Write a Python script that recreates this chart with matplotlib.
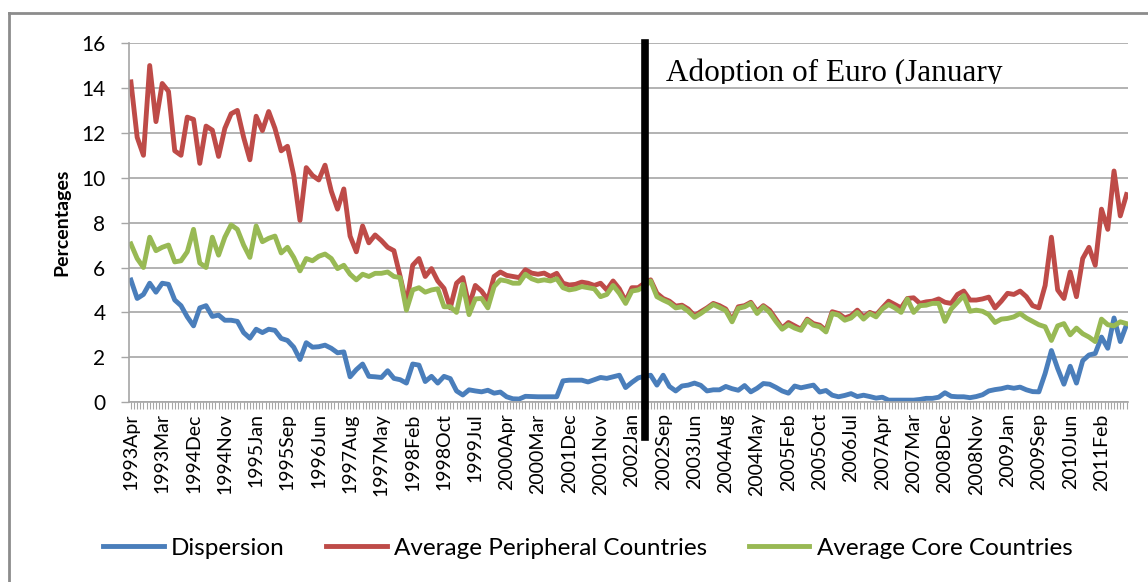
import numpy as np
import matplotlib.pyplot as plt
from matplotlib.ticker import MultipleLocator
from matplotlib.lines import Line2D
from matplotlib.transforms import Bbox, TransformedBbox

# --------------------------
# Data
# --------------------------

tick_labels = ["1993Apr", "1993Mar", "1994Dec", "1994Nov", "1995Jan", "1995Sep",
               "1996Jun", "1997Aug", "1997May", "1998Feb", "1998Oct", "1999Jul",
               "2000Apr", "2000Mar", "2001Dec", "2001Nov", "2002Jan", "2002Sep",
               "2003Jun", "2004Aug", "2004May", "2005Feb", "2005Oct", "2006Jul",
               "2007Apr", "2007Mar", "2008Dec", "2008Nov", "2009Jan", "2009Sep",
               "2010Jun", "2011Feb"]

dispersion = [5.44, 4.62, 4.8, 5.3, 4.9, 5.3, 5.25, 4.55, 4.3, 3.8,
              3.4, 4.2, 4.3, 3.82, 3.88, 3.65, 3.65, 3.6, 3.1, 2.85,
              3.25, 3.1, 3.25, 3.2, 2.84, 2.75, 2.45, 1.9, 2.65, 2.45,
              2.47, 2.54, 2.4, 2.2, 2.24, 1.13, 1.45, 1.7, 1.15, 1.13,
              1.1, 1.4, 1.06, 1.0, 0.85, 1.7, 1.65, 0.92, 1.15, 0.85,
              1.15, 1.05, 0.5, 0.32, 0.55, 0.5, 0.46, 0.53, 0.4, 0.45,
              0.24, 0.15, 0.14, 0.26, 0.25, 0.24, 0.24, 0.24, 0.24, 0.95,
              0.98, 0.98, 0.98, 0.9, 1.0, 1.1, 1.06, 1.13, 1.2, 0.65,
              0.88, 1.08, 1.15, 1.2, 0.76, 1.2, 0.7, 0.5, 0.72, 0.76,
              0.85, 0.75, 0.5, 0.55, 0.55, 0.7, 0.6, 0.53, 0.74, 0.46,
              0.62, 0.83, 0.8, 0.66, 0.5, 0.4, 0.72, 0.64, 0.7, 0.76,
              0.45, 0.52, 0.31, 0.24, 0.3, 0.38, 0.25, 0.31, 0.25, 0.18,
              0.22, 0.09, 0.09, 0.09, 0.09, 0.09, 0.12, 0.17, 0.17, 0.22,
              0.42, 0.26, 0.24, 0.24, 0.2, 0.25, 0.33, 0.5, 0.56, 0.6,
              0.67, 0.62, 0.67, 0.55, 0.47, 0.46, 1.28, 2.3, 1.5, 0.8,
              1.6, 0.85, 1.85, 2.1, 2.17, 2.9, 2.4, 3.75, 2.7, 3.45]

peripheral = [14.27, 11.8, 11.0, 15.0, 12.5, 14.2, 13.85, 11.2, 11.0, 12.7,
              12.6, 10.64, 12.3, 12.12, 10.95, 12.2, 12.85, 13.0, 11.8, 10.8,
              12.74, 12.1, 12.95, 12.2, 11.2, 11.4, 10.1, 8.1, 10.45, 10.1,
              9.9, 10.56, 9.4, 8.6, 9.5, 7.4, 6.7, 7.85, 7.1, 7.45,
              7.2, 6.9, 6.75, 5.6, 4.35, 6.1, 6.4, 5.6, 5.95, 5.4,
              5.07, 4.2, 5.3, 5.55, 4.3, 5.2, 4.95, 4.55, 5.6, 5.8,
              5.65, 5.6, 5.55, 5.9, 5.75, 5.7, 5.75, 5.6, 5.74, 5.3,
              5.22, 5.25, 5.35, 5.3, 5.2, 5.3, 5.0, 5.4, 5.05, 4.5,
              5.1, 5.1, 5.3, 5.45, 4.85, 4.62, 4.5, 4.28, 4.32, 4.15,
              3.85, 4.03, 4.2, 4.4, 4.3, 4.15, 3.65, 4.25, 4.3, 4.45,
              4.05, 4.3, 4.1, 3.7, 3.3, 3.55, 3.4, 3.25, 3.7, 3.5,
              3.43, 3.2, 4.03, 3.95, 3.75, 3.85, 4.1, 3.8, 4.0, 3.88,
              4.2, 4.5, 4.35, 4.2, 4.62, 4.65, 4.4, 4.47, 4.5, 4.6,
              4.45, 4.4, 4.8, 4.95, 4.55, 4.55, 4.6, 4.68, 4.2, 4.5,
              4.85, 4.8, 4.95, 4.7, 4.3, 4.2, 5.2, 7.35, 5.0, 4.62,
              5.8, 4.7, 6.4, 6.9, 6.1, 8.6, 7.7, 10.3, 8.3, 9.25]

core = [7.05, 6.4, 6.0, 7.35, 6.75, 6.9, 7.0, 6.25, 6.3, 6.7,
        7.7, 6.2, 6.0, 7.35, 6.55, 7.35, 7.9, 7.7, 7.0, 6.45,
        7.85, 7.15, 7.3, 7.4, 6.65, 6.9, 6.45, 5.85, 6.4, 6.3,
        6.5, 6.6, 6.4, 5.95, 6.1, 5.7, 5.45, 5.7, 5.6, 5.74,
        5.74, 5.8, 5.6, 5.55, 4.1, 5.0, 5.1, 4.9, 5.0, 5.05,
        4.25, 4.25, 4.0, 5.25, 3.9, 4.6, 4.62, 4.2, 5.15, 5.45,
        5.4, 5.3, 5.3, 5.7, 5.5, 5.4, 5.45, 5.4, 5.5, 5.1,
        5.0, 5.05, 5.15, 5.1, 5.05, 4.7, 4.8, 5.2, 4.85, 4.4,
        4.95, 5.0, 5.15, 5.4, 4.7, 4.55, 4.42, 4.2, 4.25, 4.05,
        3.78, 3.95, 4.15, 4.35, 4.22, 4.08, 3.58, 4.18, 4.25, 4.4,
        3.95, 4.25, 4.0, 3.6, 3.25, 3.45, 3.3, 3.2, 3.65, 3.43,
        3.36, 3.13, 3.95, 3.88, 3.65, 3.75, 4.0, 3.7, 3.95, 3.8,
        4.15, 4.35, 4.2, 4.0, 4.6, 4.0, 4.3, 4.32, 4.4, 4.4,
        3.6, 4.15, 4.45, 4.75, 4.05, 4.1, 4.05, 3.9, 3.55, 3.7,
        3.73, 3.8, 3.95, 3.75, 3.6, 3.45, 3.36, 2.75, 3.4, 3.5,
        3.0, 3.3, 3.05, 2.9, 2.7, 3.7, 3.45, 3.4, 3.58, 3.5]

euro_index = 82.1   # position of the euro adoption marker (category index)

# --------------------------
# Plot
# --------------------------

font = ["Lato", "DejaVu Sans"]
plt.rcParams["font.family"] = font

x = np.arange(len(dispersion))

fig = plt.figure(figsize=(11.48, 5.82), dpi=100)
ax = fig.add_axes([0.1124, 0.309, 0.870, 0.617])

ax.plot(x, dispersion, color="#4A7EBB", lw=3.5, label="Dispersion", solid_joinstyle="round")
ax.plot(x, peripheral, color="#BE4B48", lw=3.5, label="Average Peripheral Countries", solid_joinstyle="round")
ax.plot(x, core, color="#98B954", lw=3.5, label="Average Core Countries", solid_joinstyle="round")

ax.set_xlim(-0.3, len(x) - 0.8)
ax.set_ylim(0, 16)
ax.set_yticks(np.arange(0, 17, 2))
ax.yaxis.grid(True, color="#a6a6a6", lw=1.2)
ax.set_axisbelow(True)

ax.set_xticks(np.arange(0, len(x), 5))
ax.set_xticklabels(tick_labels, rotation=90, fontsize=14)
ax.xaxis.set_minor_locator(MultipleLocator(0.5))
ax.tick_params(axis="x", which="both", length=5, color="#a6a6a6", width=0.8, pad=3)
ax.tick_params(axis="y", length=6, color="#a6a6a6", width=1, pad=11, labelsize=15)

for side in ["top", "right"]:
    ax.spines[side].set_visible(False)
for side in ["left", "bottom"]:
    ax.spines[side].set_color("#a6a6a6")
    ax.spines[side].set_linewidth(1.2)

ax.set_ylabel("Percentages", fontsize=14, fontweight="bold", labelpad=8)

# euro adoption marker
ax.axvline(euro_index, ymin=-0.0975, ymax=1, color="black", lw=5.5, clip_on=False, zorder=5)
note = ax.text(0.5375, 0.894, "Adoption of Euro (January", transform=ax.transAxes,
               family=["Liberation Serif", "DejaVu Serif"], fontsize=22.5,
               va="baseline", ha="left")
note.set_clip_box(TransformedBbox(Bbox([[0.5, 0.8557], [1.0, 1.0]]), fig.transFigure))
note.set_clip_on(True)

fig.legend(loc="center", bbox_to_anchor=(0.512, 0.058), ncol=3, frameon=False,
           fontsize=17.5, handlelength=2.5, columnspacing=1.7, handletextpad=0.3)

# outer frame of the chart area
fig.add_artist(Line2D([0.008, 0.008], [0.0, 0.978], transform=fig.transFigure, color="#8c8c8c", lw=2))
fig.add_artist(Line2D([0.008, 1.0], [0.978, 0.978], transform=fig.transFigure, color="#8c8c8c", lw=2))

fig.savefig("out.png", dpi=100)
